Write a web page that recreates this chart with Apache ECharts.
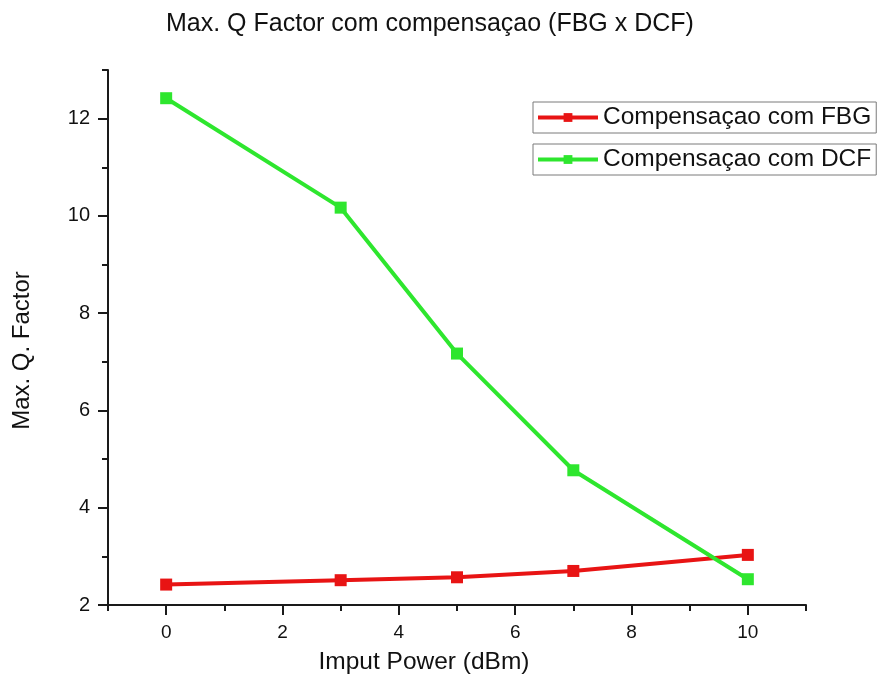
<!DOCTYPE html>
<html>
<head>
<meta charset="utf-8">
<script src="https://cdn.jsdelivr.net/npm/echarts@6/dist/echarts.min.js"></script>
<style>html,body{margin:0;padding:0;background:#fff;}#c{width:878px;height:680px;}</style>
</head>
<body>
<div id="c"></div>
<script>
const powerDbm = [0, 3, 5, 7, 10];
const qFactorFBG = [2.42, 2.51, 2.57, 2.70, 3.03];
const qFactorDCF = [12.42, 10.17, 7.17, 4.77, 2.53];
const xMajorTicks = [0, 2, 4, 6, 8, 10];
const xMinorTicks = [-1, 1, 3, 5, 7, 9, 11];
const yMajorTicks = [2, 4, 6, 8, 10, 12];
const yMinorTicks = [3, 5, 7, 9, 11, 13];
const nameFBG = 'Compensaçao com FBG';
const nameDCF = 'Compensaçao com DCF';

const FONT = '"Liberation Sans", Arial, sans-serif';
const AX = '#1a1a1a';
const chart = echarts.init(document.getElementById('c'), null, {renderer: 'canvas'});

function pairs(xs, ys) { return xs.map((x, i) => [x, ys[i]]); }

const legendCommon = {
  left: 533, orient: 'horizontal', borderColor: '#7a7a7a', borderWidth: 1,
  padding: [3, 5, 3, 3], itemWidth: 60, itemHeight: 11, itemGap: 0,
  lineStyle: {width: 4},
  textStyle: {fontFamily: FONT, fontSize: 24.5, color: '#111'}
};

chart.setOption({
  animation: false,
  backgroundColor: '#fff',
  title: {
    text: 'Max. Q Factor com compensaçao (FBG x DCF)',
    left: 161, top: 7,
    textStyle: {fontFamily: FONT, fontSize: 25, fontWeight: 'normal', color: '#111'}
  },
  legend: [
    Object.assign({}, legendCommon, {top: 102, data: [nameFBG]}),
    Object.assign({}, legendCommon, {top: 144, data: [nameDCF]})
  ],
  grid: {left: 108, right: 72, top: 70, bottom: 74},
  xAxis: [{
    type: 'value', min: -1, max: 11,
    name: 'Imput Power (dBm)', nameLocation: 'middle', nameGap: 45,
    nameTextStyle: {fontFamily: FONT, fontSize: 24.5, color: '#111', padding: [0, 66, 0, 0]},
    axisLine: {show: true, onZero: false, lineStyle: {color: AX, width: 2}},
    axisTick: {show: true, inside: false, length: 10, lineStyle: {color: AX, width: 2}, customValues: xMajorTicks},
    axisLabel: {fontFamily: FONT, fontSize: 19, color: '#111', margin: 18, customValues: xMajorTicks},
    splitLine: {show: false}
  }, {
    type: 'value', min: -1, max: 11, position: 'bottom',
    axisLine: {show: false, onZero: false},
    axisTick: {show: true, inside: false, length: 6, lineStyle: {color: AX, width: 2}, customValues: xMinorTicks},
    axisLabel: {show: false},
    splitLine: {show: false}
  }],
  yAxis: [{
    type: 'value', min: 2, max: 13,
    name: 'Max. Q. Factor', nameLocation: 'middle', nameGap: 74,
    nameTextStyle: {fontFamily: FONT, fontSize: 24, color: '#111', padding: [0, 26, 0, 0]},
    axisLine: {show: true, onZero: false, lineStyle: {color: AX, width: 2}},
    axisTick: {show: true, inside: false, length: 10, lineStyle: {color: AX, width: 2}, customValues: yMajorTicks},
    axisLabel: {fontFamily: FONT, fontSize: 20, color: '#111', margin: 18, customValues: yMajorTicks},
    splitLine: {show: false}
  }, {
    type: 'value', min: 2, max: 13, position: 'left',
    axisLine: {show: false, onZero: false},
    axisTick: {show: true, inside: false, length: 6, lineStyle: {color: AX, width: 2}, customValues: yMinorTicks},
    axisLabel: {show: false},
    splitLine: {show: false}
  }],
  series: [{
    name: nameFBG, type: 'line', data: pairs(powerDbm, qFactorFBG),
    symbol: 'rect', symbolSize: 12, showSymbol: true,
    lineStyle: {color: '#e81414', width: 4},
    itemStyle: {color: '#e81414'}
  }, {
    name: nameDCF, type: 'line', data: pairs(powerDbm, qFactorDCF),
    symbol: 'rect', symbolSize: 12, showSymbol: true,
    lineStyle: {color: '#2ee62e', width: 4},
    itemStyle: {color: '#2ee62e'}
  }]
});
</script>
</body>
</html>
